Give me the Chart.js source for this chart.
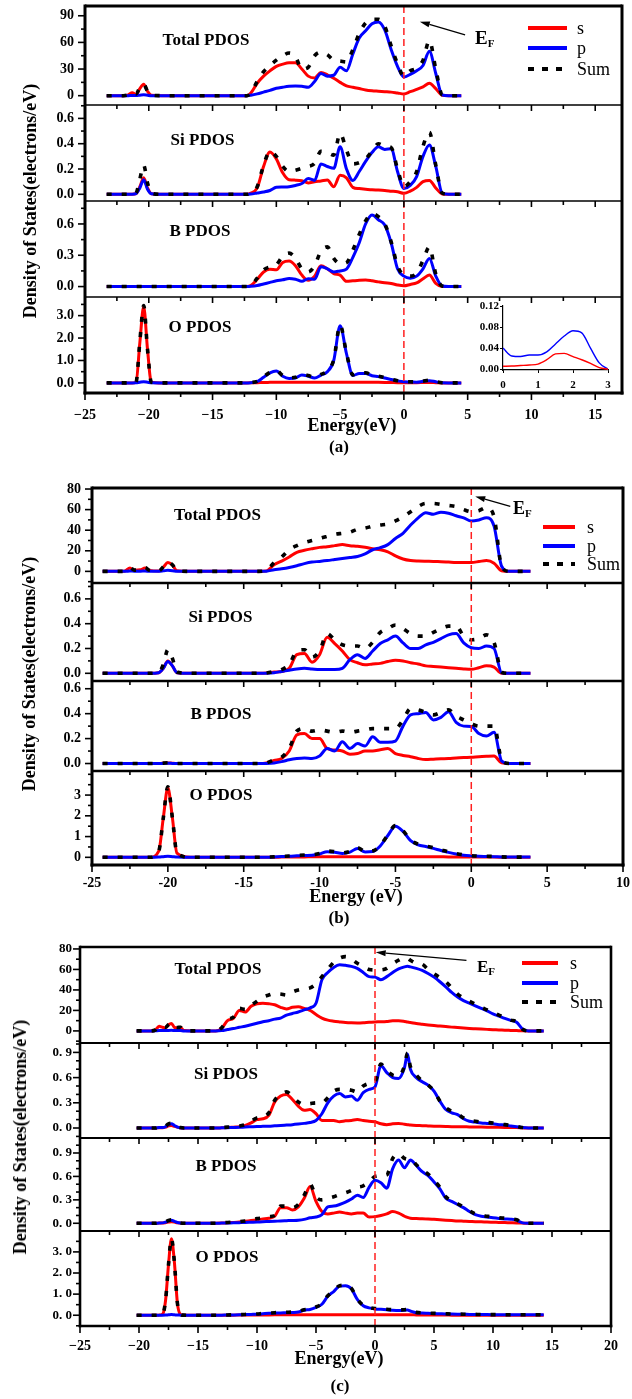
<!DOCTYPE html>
<html>
<head>
<meta charset="utf-8">
<script src="https://cdn.jsdelivr.net/npm/chart.js@4.4.0/dist/chart.umd.min.js"></script>
<style>
html, body { margin: 0; padding: 0; background: #fff; }
#root { position: relative; width: 632px; height: 1399px; overflow: hidden; }
canvas { position: absolute; left: 0; }
.t { position: absolute; font-family: 'Liberation Serif', 'Times New Roman', serif; font-weight: bold;
     line-height: 1; white-space: nowrap; color: #000; transform: translate(-50%, -50%); }
.rot { transform: translate(-50%, -50%) rotate(-90deg); }
.leg { position: absolute; height: 4px; }
.legt { position: absolute; font-family: 'Liberation Serif', 'Times New Roman', serif; font-size: 18px;
        line-height: 1; transform: translateY(-50%); color: #000; }
.ef { position: absolute; font-family: 'Liberation Serif', 'Times New Roman', serif; font-weight: bold; line-height: 1; }
.ef sub { font-size: 11px; vertical-align: -3px; }
</style>
</head>
<body>
<div id="root"></div>
<script>
// ---------- figure (a) ----------
const energyA = [-23.3, -22, -21.6, -21.3, -21, -20.7, -20.4, -20.1, -19.8, -19, -17, -15, -13, -12.3,
  -12, -11.5, -11, -10.5, -10, -9.5, -9, -8.5, -8, -7.5, -7, -6.5, -6, -5.5, -5, -4.5,
  -4, -3.5, -3, -2.5, -2, -1.5, -1, -0.5, 0, 0.5, 1, 1.5, 2, 2.5, 3, 3.5, 4.5];

const aTotalS = [0, 0, 1, 3.4, 1.5, 8, 13, 5, 0.5, 0, 0, 0, 0, 0,
  3, 14, 22, 28, 33, 35.5, 37, 37, 30, 22, 20, 26, 23.5, 19.6, 15, 11,
  9.5, 8, 6.4, 5.5, 5, 4.5, 4, 3, 2, 4.5, 7.2, 10, 14, 8, 0.5, 0, 0];
const aTotalP = [0, 0, 0, 0.3, 0.3, 0.6, 1, 0.5, 0, 0, 0, 0, 0, 0,
  0.5, 2, 4, 6, 8.3, 9.5, 10.5, 11, 10.5, 9.5, 16, 25, 22, 23, 32, 28,
  47, 65, 73, 81, 83, 74, 52, 33, 21, 24, 28, 34, 50, 25, 1, 0, 0];
const aTotalSum = [0, 0, 1, 3.5, 2, 9, 13, 5, 0.5, 0, 0, 0, 0, 0,
  3, 16, 27, 34, 40, 45, 48, 44, 30, 32, 45, 49, 46, 40, 39, 38,
  52, 70, 82, 86, 86, 78, 56, 36, 22, 28, 31, 40, 62, 30, 1, 0, 0];

const aSiS = [0, 0, 0, 0, 0.005, 0.06, 0.13, 0.05, 0.005, 0, 0, 0, 0, 0,
  0.01, 0.05, 0.22, 0.335, 0.28, 0.17, 0.115, 0.112, 0.108, 0.09, 0.1, 0.105, 0.113, 0.06, 0.15, 0.13,
  0.055, 0.045, 0.04, 0.035, 0.033, 0.03, 0.025, 0.02, 0.008, 0.025, 0.055, 0.1, 0.11, 0.05, 0.003, 0, 0];
const aSiP = [0, 0, 0, 0, 0.005, 0.05, 0.115, 0.04, 0.005, 0, 0, 0, 0, 0,
  0.002, 0.01, 0.018, 0.03, 0.055, 0.058, 0.06, 0.07, 0.085, 0.125, 0.11, 0.24, 0.22, 0.205, 0.375, 0.2,
  0.11, 0.18, 0.26, 0.33, 0.375, 0.355, 0.36, 0.18, 0.045, 0.07, 0.14, 0.3, 0.39, 0.22, 0.01, 0, 0];
const aSiSum = [0, 0, 0, 0, 0.01, 0.12, 0.23, 0.09, 0.01, 0, 0, 0, 0, 0,
  0.01, 0.06, 0.23, 0.34, 0.3, 0.22, 0.18, 0.19, 0.205, 0.22, 0.245, 0.34, 0.33, 0.31, 0.48, 0.35,
  0.24, 0.25, 0.28, 0.34, 0.4, 0.38, 0.37, 0.2, 0.06, 0.1, 0.18, 0.38, 0.49, 0.23, 0.01, 0, 0];

const aBS = [0, 0, 0, 0, 0, 0, 0, 0, 0, 0, 0, 0, 0, 0,
  0.01, 0.07, 0.14, 0.167, 0.16, 0.23, 0.245, 0.2, 0.11, 0.06, 0.1, 0.2, 0.17, 0.125, 0.11, 0.05,
  0.055, 0.06, 0.062, 0.055, 0.045, 0.036, 0.03, 0.015, 0.007, 0.02, 0.035, 0.075, 0.11, 0.03, 0, 0, 0];
const aBP = [0, 0, 0, 0, 0, 0, 0, 0, 0, 0, 0, 0, 0, 0,
  0.002, 0.01, 0.025, 0.04, 0.055, 0.065, 0.078, 0.07, 0.05, 0.075, 0.07, 0.19, 0.17, 0.14, 0.15, 0.167,
  0.28, 0.42, 0.6, 0.685, 0.64, 0.59, 0.42, 0.17, 0.1, 0.08, 0.1, 0.17, 0.27, 0.1, 0.005, 0, 0];
const aBSum = [0, 0, 0, 0, 0, 0, 0, 0, 0, 0, 0, 0, 0, 0,
  0.01, 0.08, 0.16, 0.19, 0.21, 0.29, 0.32, 0.27, 0.17, 0.14, 0.2, 0.34, 0.38, 0.27, 0.22, 0.23,
  0.35, 0.5, 0.63, 0.7, 0.67, 0.6, 0.43, 0.2, 0.11, 0.1, 0.13, 0.25, 0.38, 0.12, 0.005, 0, 0];

const aOS = [0, 0, 0, 0, 0.03, 1.8, 3.4, 1.5, 0.03, 0, 0, 0, 0, 0,
  0.005, 0.01, 0.02, 0.025, 0.03, 0.03, 0.03, 0.03, 0.03, 0.03, 0.03, 0.03, 0.03, 0.03, 0.03, 0.03,
  0.03, 0.03, 0.03, 0.03, 0.025, 0.02, 0.015, 0.01, 0.008, 0.01, 0.01, 0.015, 0.02, 0.01, 0, 0, 0];
const aOP = [0, 0, 0, 0, 0.005, 0.03, 0.05, 0.03, 0.005, 0, 0, 0, 0, 0,
  0.01, 0.06, 0.25, 0.45, 0.53, 0.3, 0.2, 0.22, 0.35, 0.3, 0.22, 0.35, 0.5, 1.0, 2.55, 1.3,
  0.33, 0.42, 0.42, 0.32, 0.28, 0.22, 0.15, 0.09, 0.05, 0.04, 0.03, 0.07, 0.1, 0.05, 0.005, 0, 0];
const aOSum = [0, 0, 0, 0, 0.03, 1.85, 3.45, 1.5, 0.03, 0, 0, 0, 0, 0,
  0.015, 0.07, 0.27, 0.47, 0.55, 0.33, 0.23, 0.25, 0.38, 0.33, 0.25, 0.38, 0.53, 1.03, 2.58, 1.33,
  0.36, 0.45, 0.45, 0.35, 0.3, 0.24, 0.17, 0.1, 0.06, 0.05, 0.04, 0.08, 0.12, 0.06, 0.005, 0, 0];

// inset of (a): 0..3 eV, O PDOS
const insetEnergy = [0, 0.25, 0.5, 0.75, 1, 1.25, 1.5, 1.75, 2, 2.25, 2.5, 2.75, 3];
const insetS = [0.0055, 0.006, 0.007, 0.008, 0.0098, 0.018, 0.029, 0.03, 0.024, 0.018, 0.011, 0.003, 0];
const insetP = [0.04, 0.025, 0.024, 0.027, 0.027, 0.033, 0.048, 0.063, 0.073, 0.069, 0.04, 0.012, 0];

// ---------- figure (b) ----------
const energyB = [-24.3, -23, -22.8, -22.5, -22.2, -21.8, -21.5, -21.2, -20.6, -20.3, -20, -19.7, -19.4, -18.5, -17, -15, -14,
  -13.5, -13, -12.5, -12, -11.5, -11, -10.5, -10, -9.5, -9, -8.5, -8, -7.5, -7, -6.5, -6, -5.5,
  -5, -4.5, -4, -3.5, -3, -2.5, -2, -1.5, -1, -0.5, 0, 0.5, 1, 1.5, 2, 2.5, 3, 3.9];

const bTotalS = [0, 0, 0.5, 3.3, 1, 1.5, 3.3, 1, 0.3, 4, 8.5, 6, 0.5, 0, 0, 0, 0,
  0.5, 6.5, 10, 14, 18.5, 20.5, 22, 23.3, 24, 25, 26, 25, 24.5, 23.5, 22, 21, 19,
  15, 12, 10.5, 10, 9.8, 9.7, 9.3, 9, 8.7, 8.7, 8.7, 9.5, 10.5, 8, 0.6, 0, 0, 0];
const bTotalP = [0, 0, 0, 0.3, 0.2, 0.2, 0.3, 0.1, 0.1, 0.5, 1, 0.7, 0.1, 0, 0, 0, 0,
  0.2, 1.5, 2.5, 3.8, 5.5, 7.5, 9, 9.7, 10.5, 11.5, 12.5, 13.5, 14.5, 17, 21, 23, 26,
  32, 37, 45, 52, 57, 55.5, 57.5, 56.5, 54, 52, 49, 50, 52, 44, 5, 0, 0, 0];
const bTotalSum = [0, 0, 0.5, 3.5, 1.2, 1.7, 3.5, 1, 0.5, 4.5, 9, 6.5, 0.5, 0, 0, 0, 0,
  1, 8.5, 14, 21, 25, 28, 30, 32, 34, 36, 37, 38, 41, 42, 44, 45, 46,
  49, 53, 58, 63, 66, 66, 65, 64, 63, 60, 58, 59, 62, 53, 5, 0, 0, 0];

const bSiS = [0, 0, 0, 0, 0, 0, 0, 0, 0.005, 0.04, 0.1, 0.06, 0.005, 0, 0, 0, 0,
  0.002, 0.01, 0.015, 0.04, 0.15, 0.16, 0.09, 0.15, 0.29, 0.24, 0.18, 0.11, 0.085, 0.068, 0.075, 0.08, 0.095,
  0.105, 0.1, 0.085, 0.075, 0.06, 0.055, 0.05, 0.045, 0.04, 0.035, 0.032, 0.045, 0.06, 0.05, 0, 0, 0, 0];
const bSiP = [0, 0, 0, 0, 0, 0, 0, 0, 0.005, 0.04, 0.095, 0.06, 0.005, 0, 0, 0, 0,
  0.001, 0.005, 0.015, 0.025, 0.035, 0.04, 0.035, 0.03, 0.03, 0.03, 0.04, 0.11, 0.15, 0.12, 0.18, 0.24, 0.27,
  0.3, 0.245, 0.2, 0.2, 0.23, 0.25, 0.28, 0.31, 0.32, 0.245, 0.206, 0.2, 0.22, 0.2, 0.005, 0, 0, 0];
const bSiSum = [0, 0, 0, 0, 0, 0, 0, 0, 0.01, 0.07, 0.19, 0.12, 0.01, 0, 0, 0, 0,
  0.003, 0.015, 0.03, 0.07, 0.18, 0.19, 0.13, 0.18, 0.32, 0.27, 0.23, 0.22, 0.22, 0.2, 0.25, 0.33, 0.36,
  0.39, 0.36, 0.32, 0.3, 0.3, 0.33, 0.36, 0.38, 0.38, 0.3, 0.27, 0.28, 0.31, 0.25, 0.01, 0, 0, 0];

const bBS = [0, 0, 0, 0, 0, 0, 0, 0, 0, 0.002, 0.005, 0.002, 0, 0, 0, 0, 0,
  0.005, 0.025, 0.04, 0.1, 0.23, 0.24, 0.2, 0.2, 0.12, 0.108, 0.1, 0.075, 0.08, 0.1, 0.1, 0.11, 0.12,
  0.08, 0.065, 0.055, 0.04, 0.032, 0.035, 0.038, 0.04, 0.045, 0.048, 0.05, 0.055, 0.058, 0.06, 0.005, 0, 0, 0];
const bBP = [0, 0, 0, 0, 0, 0, 0, 0, 0, 0.001, 0.002, 0.001, 0, 0, 0, 0, 0,
  0.001, 0.005, 0.015, 0.03, 0.04, 0.045, 0.04, 0.06, 0.12, 0.1, 0.175, 0.12, 0.16, 0.14, 0.215, 0.17, 0.17,
  0.18, 0.3, 0.39, 0.4, 0.41, 0.35, 0.37, 0.415, 0.33, 0.3, 0.297, 0.24, 0.22, 0.25, 0.02, 0, 0, 0];
const bBSum = [0, 0, 0, 0, 0, 0, 0, 0, 0, 0.003, 0.006, 0.003, 0, 0, 0, 0, 0,
  0.005, 0.03, 0.05, 0.12, 0.26, 0.28, 0.26, 0.27, 0.26, 0.25, 0.26, 0.25, 0.26, 0.27, 0.28, 0.28, 0.28,
  0.28, 0.35, 0.44, 0.43, 0.41, 0.39, 0.41, 0.43, 0.38, 0.35, 0.32, 0.3, 0.3, 0.3, 0.03, 0, 0, 0];

const bOS = [0, 0, 0, 0, 0, 0, 0, 0, 0.3, 1.9, 3.35, 1.9, 0.2, 0, 0, 0, 0,
  0.002, 0.005, 0.01, 0.015, 0.02, 0.02, 0.025, 0.025, 0.03, 0.03, 0.03, 0.03, 0.03, 0.03, 0.03, 0.03, 0.03,
  0.03, 0.03, 0.03, 0.03, 0.03, 0.03, 0.025, 0.02, 0.02, 0.015, 0.01, 0.01, 0.01, 0.01, 0.005, 0, 0, 0];
const bOP = [0, 0, 0, 0, 0, 0, 0, 0, 0.01, 0.03, 0.05, 0.03, 0.01, 0, 0, 0, 0,
  0.005, 0.02, 0.04, 0.05, 0.07, 0.09, 0.1, 0.16, 0.27, 0.24, 0.19, 0.25, 0.43, 0.26, 0.28, 0.55, 1.05,
  1.5, 1.25, 0.8, 0.6, 0.52, 0.43, 0.33, 0.24, 0.16, 0.1, 0.07, 0.05, 0.04, 0.03, 0.015, 0.01, 0.01, 0.01];
const bOSum = [0, 0, 0, 0, 0, 0, 0, 0, 0.3, 1.9, 3.4, 1.9, 0.2, 0, 0, 0, 0,
  0.007, 0.025, 0.05, 0.06, 0.09, 0.11, 0.12, 0.18, 0.3, 0.27, 0.22, 0.28, 0.46, 0.29, 0.31, 0.58, 1.08,
  1.53, 1.28, 0.83, 0.63, 0.55, 0.46, 0.36, 0.26, 0.18, 0.12, 0.08, 0.06, 0.05, 0.04, 0.02, 0.01, 0.01, 0.01];

// ---------- figure (c) ----------
const energyC = [-20.2, -19, -18.6, -18.3, -18, -17.75, -17.5, -17.25, -17, -16.75, -16.5, -16.2, -15.5, -14, -13.5,
  -13, -12.5, -12, -11.5, -11, -10.5, -10, -9.5, -9, -8.5, -8, -7.5, -7, -6.5, -6, -5.5,
  -5, -4.5, -4, -3.5, -3, -2.5, -2, -1.5, -1, -0.5, 0, 0.5, 1, 1.5, 2, 2.5, 2.75,
  3, 3.5, 4, 4.5, 5, 5.5, 6, 6.5, 7, 7.5, 8, 8.5, 9, 9.5, 10, 10.5, 11, 11.5, 12, 12.5, 13, 14.3];

const cTotalS = [0, 0, 1, 4.5, 3.5, 3, 6, 7.3, 3.5, 3, 3.5, 0.5, 0, 0, 0,
  2.5, 10, 12.2, 20, 18.4, 24, 26.5, 27, 26.5, 25.5, 23, 21.5, 23, 23.5, 22, 20,
  16, 12.5, 10.5, 9.5, 8.8, 8.2, 7.9, 7.8, 8, 8.5, 8.8, 9, 9.3, 9.8, 9.8, 9.2, 8.7,
  8.3, 7.2, 6.5, 5.8, 5.2, 4.7, 4.2, 3.7, 3.3, 2.8, 2.4, 2.1, 1.8, 1.5, 1.2, 1.0, 0.7, 0.5, 0.3, 0.1, 0, 0];
const cTotalP = [0, 0, 0.1, 0.3, 0.3, 0.3, 0.5, 0.6, 0.4, 0.3, 0.3, 0, 0, 0, 0,
  0.3, 1.3, 2.3, 3.5, 4.6, 6, 7.5, 9, 10, 11.5, 12.5, 15.4, 17, 18.5, 20.5, 22.5,
  27, 50, 57, 62, 64.6, 64, 63, 61, 57, 53, 52.5, 50, 53, 57, 60.5, 62.5, 63,
  62.5, 61, 59, 56, 52.5, 48, 43, 37.5, 33, 29.5, 27, 24.5, 22, 19.5, 16.7, 14.5, 12.3, 10.3, 8.5, 2, 0, 0];
const cTotalSum = [0, 0, 1, 4.5, 3.8, 3.5, 6, 7.5, 4, 3.3, 3.6, 0.5, 0, 0, 0,
  3, 11, 13.4, 22, 21, 25, 29, 33, 35, 36.5, 36, 35, 38, 40, 41, 42,
  46, 53, 60, 67, 71, 72.5, 70, 66, 63, 60, 59.5, 59.5, 61, 65.5, 69, 71, 71,
  69, 66, 65, 60, 56, 52, 48, 42, 36, 32, 29, 26, 23, 20.5, 18, 15.5, 12.7, 10.5, 8.8, 1.6, 0, 0];

const cSiS = [0, 0, 0, 0.003, 0.003, 0.01, 0.025, 0.03, 0.02, 0.01, 0.003, 0, 0, 0, 0,
  0.002, 0.005, 0.01, 0.015, 0.03, 0.06, 0.1, 0.11, 0.15, 0.31, 0.38, 0.4, 0.34, 0.26, 0.21, 0.22,
  0.17, 0.09, 0.09, 0.09, 0.075, 0.085, 0.09, 0.1, 0.09, 0.08, 0.075, 0.05, 0.04, 0.05, 0.055, 0.045, 0.04,
  0.035, 0.03, 0.028, 0.025, 0.022, 0.02, 0.018, 0.016, 0.015, 0.014, 0.013, 0.012, 0.011, 0.01, 0.009, 0.008, 0.007, 0.006, 0.005, 0.002, 0, 0];
const cSiP = [0, 0, 0, 0.005, 0.005, 0.015, 0.04, 0.05, 0.03, 0.01, 0.003, 0, 0, 0, 0,
  0.002, 0.004, 0.006, 0.008, 0.012, 0.015, 0.018, 0.02, 0.022, 0.026, 0.03, 0.035, 0.04, 0.047, 0.055, 0.065,
  0.09, 0.17, 0.3, 0.38, 0.41, 0.37, 0.38, 0.33, 0.42, 0.46, 0.49, 0.74, 0.66, 0.6, 0.59, 0.72, 0.88,
  0.7, 0.6, 0.55, 0.51, 0.44, 0.32, 0.22, 0.18, 0.16, 0.11, 0.08, 0.07, 0.06, 0.055, 0.05, 0.04, 0.035, 0.025, 0.015, 0.005, 0, 0];
const cSiSum = [0, 0, 0, 0.008, 0.008, 0.02, 0.05, 0.055, 0.04, 0.015, 0.005, 0, 0, 0, 0,
  0.005, 0.01, 0.015, 0.025, 0.04, 0.08, 0.12, 0.13, 0.18, 0.33, 0.4, 0.43, 0.38, 0.31, 0.28, 0.29,
  0.3, 0.3, 0.36, 0.44, 0.46, 0.46, 0.45, 0.43, 0.5, 0.53, 0.55, 0.76, 0.68, 0.63, 0.62, 0.74, 0.89,
  0.73, 0.63, 0.56, 0.51, 0.44, 0.32, 0.24, 0.2, 0.17, 0.12, 0.09, 0.08, 0.07, 0.065, 0.06, 0.05, 0.04, 0.03, 0.02, 0.005, 0, 0];

const cBS = [0, 0, 0, 0.002, 0.003, 0.008, 0.015, 0.02, 0.015, 0.005, 0.002, 0, 0, 0, 0,
  0.003, 0.007, 0.01, 0.015, 0.025, 0.035, 0.045, 0.055, 0.065, 0.09, 0.2, 0.2, 0.17, 0.21, 0.32, 0.47,
  0.28, 0.15, 0.12, 0.13, 0.145, 0.13, 0.12, 0.13, 0.13, 0.08, 0.085, 0.1, 0.12, 0.15, 0.13, 0.09, 0.075,
  0.065, 0.06, 0.058, 0.055, 0.05, 0.045, 0.04, 0.035, 0.03, 0.027, 0.024, 0.02, 0.018, 0.015, 0.013, 0.011, 0.009, 0.007, 0.005, 0.002, 0, 0];
const cBP = [0, 0, 0, 0.003, 0.005, 0.015, 0.03, 0.04, 0.025, 0.01, 0.003, 0, 0, 0, 0,
  0.002, 0.004, 0.006, 0.008, 0.01, 0.013, 0.016, 0.02, 0.022, 0.025, 0.03, 0.033, 0.036, 0.04, 0.05, 0.07,
  0.08, 0.11, 0.21, 0.22, 0.24, 0.27, 0.31, 0.36, 0.33, 0.46, 0.55, 0.52, 0.45, 0.7, 0.81, 0.71, 0.76,
  0.81, 0.74, 0.66, 0.61, 0.53, 0.44, 0.32, 0.28, 0.24, 0.2, 0.15, 0.11, 0.09, 0.08, 0.07, 0.062, 0.056, 0.052, 0.04, 0.005, 0, 0];
const cBSum = [0, 0, 0, 0.005, 0.008, 0.02, 0.035, 0.045, 0.03, 0.01, 0.004, 0, 0, 0, 0,
  0.005, 0.01, 0.015, 0.02, 0.03, 0.045, 0.06, 0.07, 0.085, 0.1, 0.22, 0.22, 0.2, 0.24, 0.36, 0.5,
  0.34, 0.3, 0.32, 0.34, 0.37, 0.39, 0.42, 0.46, 0.48, 0.53, 0.6, 0.61, 0.62, 0.83, 0.89, 0.83, 0.82,
  0.82, 0.75, 0.68, 0.63, 0.55, 0.46, 0.34, 0.29, 0.25, 0.21, 0.16, 0.12, 0.1, 0.09, 0.08, 0.07, 0.065, 0.058, 0.045, 0.006, 0, 0];

const cOS = [0, 0, 0, 0.005, 0.05, 0.7, 2.4, 3.62, 2.5, 0.6, 0.05, 0.003, 0, 0, 0,
  0.002, 0.003, 0.005, 0.006, 0.008, 0.01, 0.012, 0.014, 0.016, 0.018, 0.02, 0.02, 0.02, 0.02, 0.02, 0.02,
  0.02, 0.02, 0.02, 0.02, 0.02, 0.02, 0.02, 0.02, 0.02, 0.02, 0.02, 0.02, 0.02, 0.02, 0.02, 0.02, 0.02,
  0.02, 0.015, 0.012, 0.01, 0.008, 0.007, 0.006, 0.005, 0.004, 0.003, 0.003, 0.002, 0.002, 0.002, 0.002, 0.002, 0.002, 0.002, 0.002, 0.001, 0.001, 0];
const cOP = [0, 0, 0, 0.002, 0.005, 0.01, 0.02, 0.03, 0.02, 0.01, 0.005, 0, 0, 0, 0,
  0.005, 0.01, 0.015, 0.02, 0.03, 0.04, 0.05, 0.07, 0.09, 0.1, 0.11, 0.12, 0.13, 0.15, 0.24, 0.27,
  0.37, 0.52, 0.9, 1.12, 1.38, 1.4, 1.25, 0.75, 0.45, 0.35, 0.3, 0.28, 0.26, 0.24, 0.23, 0.24, 0.25,
  0.2, 0.12, 0.1, 0.09, 0.08, 0.07, 0.06, 0.055, 0.05, 0.045, 0.04, 0.035, 0.033, 0.03, 0.028, 0.026, 0.024, 0.022, 0.02, 0.02, 0.02, 0.02];
const cOSum = [0, 0, 0, 0.005, 0.05, 0.7, 2.4, 3.63, 2.5, 0.6, 0.05, 0.003, 0, 0, 0,
  0.007, 0.013, 0.02, 0.026, 0.038, 0.05, 0.06, 0.085, 0.1, 0.12, 0.13, 0.14, 0.15, 0.17, 0.26, 0.29,
  0.39, 0.54, 0.92, 1.14, 1.4, 1.42, 1.27, 0.77, 0.47, 0.37, 0.32, 0.3, 0.28, 0.26, 0.25, 0.26, 0.27,
  0.22, 0.135, 0.11, 0.1, 0.09, 0.08, 0.07, 0.06, 0.055, 0.05, 0.045, 0.04, 0.035, 0.032, 0.03, 0.028, 0.026, 0.024, 0.022, 0.021, 0.021, 0.02];

// ---------- tick labels ----------
const xTicksA = [-25, -20, -15, -10, -5, 0, 5, 10, 15];
const xTicksB = [-25, -20, -15, -10, -5, 0, 5, 10];
const xTicksC = [-25, -20, -15, -10, -5, 0, 5, 10, 15, 20];
const yTicksATotal = [0, 30, 60, 90], yTicksASi = [0, 0.2, 0.4, 0.6], yTicksAB = [0, 0.3, 0.6], yTicksAO = [0, 1, 2, 3];
const yTicksBTotal = [0, 20, 40, 60, 80], yTicksBSi = [0, 0.2, 0.4, 0.6], yTicksBB = [0, 0.2, 0.4, 0.6], yTicksBO = [0, 1, 2, 3];
const yTicksCTotal = [0, 20, 40, 60, 80], yTicksCSi = [0, 0.3, 0.6, 0.9], yTicksCB = [0, 0.3, 0.6, 0.9], yTicksCO = [0, 1, 2, 3];
const insetXTicks = [0, 1, 2, 3], insetYTicks = [0, 0.04, 0.08, 0.12];

// ---------- layout ----------
const W = 632;
const FONT = "'Liberation Serif', 'Times New Roman', serif";
Chart.defaults.font.family = FONT;
Chart.defaults.font.weight = 'bold';
Chart.defaults.color = '#000';

const figures = [
  {
    energy: energyA, xMin: -25, xMax: 17.1, left: 85, right: 622, edges: [6, 105, 201, 297, 393],
    xTicks: xTicksA, minus: '\u2212', xPad: 13.5, yPad: 11, yFont: 14, outer: 3, inner: 1.5,
    arrow: { from: [4.8, 68.4], to: [1.25, 83.4] },
    panels: [
      { s: aTotalS, p: aTotalP, sum: aTotalSum, yMin: -10.5, yMax: 101, ticks: yTicksATotal, minor: 15, dec: 0 },
      { s: aSiS, p: aSiP, sum: aSiSum, yMin: -0.053, yMax: 0.706, ticks: yTicksASi, minor: 0.1, dec: 1 },
      { s: aBS, p: aBP, sum: aBSum, yMin: -0.1, yMax: 0.82, ticks: yTicksAB, minor: 0.15, dec: 1 },
      { s: aOS, p: aOP, sum: aOSum, yMin: -0.45, yMax: 3.83, ticks: yTicksAO, minor: 0.5, dec: 1 }
    ]
  },
  {
    energy: energyB, xMin: -25, xMax: 10, left: 92, right: 623, edges: [488, 583, 681, 771, 865],
    xTicks: xTicksB, minus: '-', xPad: 9.6, yPad: 11, yFont: 14, outer: 3, inner: 2.5,
    arrow: { from: [2.57, 63.1], to: [0.26, 72.8] },
    panels: [
      { s: bTotalS, p: bTotalP, sum: bTotalSum, yMin: -11.3, yMax: 81, ticks: yTicksBTotal, minor: 10, dec: 0 },
      { s: bSiS, p: bSiP, sum: bSiSum, yMin: -0.062, yMax: 0.728, ticks: yTicksBSi, minor: 0.1, dec: 1 },
      { s: bBS, p: bBP, sum: bBSum, yMin: -0.06, yMax: 0.662, ticks: yTicksBB, minor: 0.1, dec: 1 },
      { s: bOS, p: bOP, sum: bOSum, yMin: -0.37, yMax: 4.16, ticks: yTicksBO, minor: 0.5, dec: 0 }
    ]
  },
  {
    energy: energyC, xMin: -25, xMax: 20, left: 80, right: 611, edges: [947, 1043, 1138, 1231, 1326],
    xTicks: xTicksC, minus: '\u2212', xPad: 11.6, yPad: 8, yFont: 13, outer: 2.6, inner: 1.8, spaced: true,
    arrow: { from: [7.75, 68.8], to: [0.06, 76.7] },
    panels: [
      { s: cTotalS, p: cTotalP, sum: cTotalSum, yMin: -11.8, yMax: 81.9, ticks: yTicksCTotal, minor: 10, dec: 0 },
      { s: cSiS, p: cSiP, sum: cSiSum, yMin: -0.119, yMax: 1.012, ticks: yTicksCSi, minor: 0.1, dec: 1 },
      { s: cBS, p: cBP, sum: cBSum, yMin: -0.099, yMax: 1.092, ticks: yTicksCB, minor: 0.1, dec: 1 },
      { s: cOS, p: cOP, sum: cOSum, yMin: -0.51, yMax: 3.99, ticks: yTicksCO, minor: 0.5, dec: 1 }
    ]
  }
];

const root = document.getElementById('root');

function pts(xs, ys) {
  return xs.map((x, i) => ({ x: x, y: ys[i] }));
}

function minorValues(min, max, step, majors) {
  const out = [];
  for (let k = Math.ceil(min / step - 1e-9); k * step <= max + 1e-9; k++) {
    const v = Math.round(k * step * 1e6) / 1e6;
    if (!majors.some(m => Math.abs(m - v) < 1e-6)) out.push(v);
  }
  return out;
}

// scale boxes get a fixed size and no label overflow padding
function fixBox(s, w, h) {
  if (w !== null) s.width = w;
  if (h !== null) s.height = h;
  s.paddingTop = 0; s.paddingBottom = 0; s.paddingLeft = 0; s.paddingRight = 0;
}

function hLine(ctx, x1, x2, y) { ctx.beginPath(); ctx.moveTo(x1, y); ctx.lineTo(x2, y); ctx.stroke(); }
function vLine(ctx, x, y1, y2) { ctx.beginPath(); ctx.moveTo(x, y1); ctx.lineTo(x, y2); ctx.stroke(); }

function panelDeco(f, i) {
  const p = f.panels[i];
  const last = i === f.panels.length - 1;
  return {
    id: 'panelDeco',
    afterDatasetsDraw(chart) {
      const { ctx, chartArea: a, scales: { x, y } } = chart;
      const x0 = x.getPixelForValue(0);
      ctx.save();
      ctx.strokeStyle = '#ff2020';
      ctx.lineWidth = 1.5;
      ctx.setLineDash([7, 4]);
      vLine(ctx, x0, a.top, a.bottom);
      ctx.setLineDash([]);
      if (i === 0) {
        // E_F arrow
        const tx = x.getPixelForValue(f.arrow.from[0]), ty = y.getPixelForValue(f.arrow.from[1]);
        const hx = x.getPixelForValue(f.arrow.to[0]), hy = y.getPixelForValue(f.arrow.to[1]);
        const ang = Math.atan2(hy - ty, hx - tx);
        const L = 10, hw = 3;
        const bx = hx - L * Math.cos(ang), by = hy - L * Math.sin(ang);
        ctx.strokeStyle = '#000';
        ctx.lineWidth = 1.2;
        ctx.beginPath(); ctx.moveTo(tx, ty); ctx.lineTo(bx, by); ctx.stroke();
        ctx.fillStyle = '#000';
        ctx.beginPath();
        ctx.moveTo(hx, hy);
        ctx.lineTo(bx + hw * Math.sin(ang), by - hw * Math.cos(ang));
        ctx.lineTo(bx - hw * Math.sin(ang), by + hw * Math.cos(ang));
        ctx.closePath();
        ctx.fill();
      }
      ctx.restore();
    },
    afterDraw(chart) {
      const { ctx, chartArea: a, scales: { x, y } } = chart;
      ctx.save();
      ctx.strokeStyle = '#000';
      ctx.lineWidth = 1.6;
      // y ticks, outside
      p.ticks.forEach(v => hLine(ctx, a.left - 7, a.left, y.getPixelForValue(v)));
      minorValues(p.yMin, p.yMax, p.minor, p.ticks).forEach(v => hLine(ctx, a.left - 4, a.left, y.getPixelForValue(v)));
      // x ticks
      const xMinor = minorValues(f.xMin, f.xMax, 2.5, f.xTicks);
      if (i > 0) {
        f.xTicks.forEach(v => vLine(ctx, x.getPixelForValue(v), a.top, a.top + 6));
        xMinor.forEach(v => vLine(ctx, x.getPixelForValue(v), a.top, a.top + 4));
      }
      if (last) {
        f.xTicks.forEach(v => vLine(ctx, x.getPixelForValue(v), a.bottom, a.bottom + 7));
        xMinor.forEach(v => vLine(ctx, x.getPixelForValue(v), a.bottom, a.bottom + 4));
      }
      // frame
      const tw = i === 0 ? f.outer : f.inner;
      ctx.lineWidth = tw;
      hLine(ctx, a.left, a.right, a.top);
      if (last) {
        ctx.lineWidth = f.outer;
        hLine(ctx, a.left - f.outer / 2, a.right + f.outer / 2, a.bottom);
      }
      ctx.lineWidth = f.outer;
      const y1 = a.top - (i === 0 ? tw / 2 : 0), y2 = a.bottom + (last ? f.outer / 2 : 0);
      vLine(ctx, a.left, y1, y2);
      vLine(ctx, a.right, y1, y2);
      ctx.restore();
    }
  };
}

function yLabel(f, p, v) {
  let s = p.dec ? v.toFixed(p.dec) : String(Math.round(v));
  if (f.spaced && p.dec) s = s.replace('.', '. ');
  return s;
}

figures.forEach(f => {
  f.panels.forEach((p, i) => {
    const last = i === f.panels.length - 1;
    const top = f.edges[i], bottom = f.edges[i + 1];
    const padT = 8, padB = last ? 0 : 8;
    const axisH = last ? 40 : 0;
    const h = bottom - top + padT + padB + axisH;
    const cv = document.createElement('canvas');
    cv.width = W; cv.height = h;
    cv.style.top = (top - padT) + 'px';
    cv.style.width = W + 'px'; cv.style.height = h + 'px';
    root.appendChild(cv);
    new Chart(cv, {
      type: 'line',
      data: {
        datasets: [
          { data: pts(f.energy, p.s), borderColor: '#ff0000', borderWidth: 3, order: 2 },
          { data: pts(f.energy, p.p), borderColor: '#0000ff', borderWidth: 3, order: 1 },
          { data: pts(f.energy, p.sum), borderColor: '#000000', borderWidth: 3.6, borderDash: [5, 10], order: 0 }
        ]
      },
      options: {
        responsive: false, animation: false, events: [], devicePixelRatio: 1,
        layout: { autoPadding: false, padding: { left: 0, right: W - f.right, top: padT, bottom: padB } },
        elements: { point: { radius: 0 }, line: { cubicInterpolationMode: 'monotone', borderCapStyle: 'butt' } },
        plugins: { legend: { display: false }, tooltip: { enabled: false } },
        scales: {
          x: {
            type: 'linear', min: f.xMin, max: f.xMax, display: last,
            grid: { display: false, drawTicks: false }, border: { display: false },
            afterFit: s => fixBox(s, null, axisH),
            afterBuildTicks: s => { s.ticks = f.xTicks.map(v => ({ value: v })); },
            ticks: {
              padding: f.xPad, maxRotation: 0, autoSkip: false, font: { size: 14, weight: 'bold' },
              callback: v => (v < 0 ? f.minus + Math.abs(v) : String(v))
            }
          },
          y: {
            type: 'linear', min: p.yMin, max: p.yMax,
            grid: { display: false, drawTicks: false }, border: { display: false },
            afterFit: s => fixBox(s, f.left, null),
            afterBuildTicks: s => { s.ticks = p.ticks.map(v => ({ value: v })); },
            ticks: { padding: f.yPad, autoSkip: false, font: { size: f.yFont, weight: 'bold' }, callback: v => yLabel(f, p, v) }
          }
        }
      },
      plugins: [panelDeco(f, i)]
    });
  });
});

// inset in (a) O PDOS
(function () {
  const cv = document.createElement('canvas');
  cv.width = 150; cv.height = 98;
  cv.style.left = '465px'; cv.style.top = '298px';
  root.appendChild(cv);
  new Chart(cv, {
    type: 'line',
    data: {
      datasets: [
        { data: pts(insetEnergy, insetS), borderColor: '#ff0000', borderWidth: 1.4 },
        { data: pts(insetEnergy, insetP), borderColor: '#0000ff', borderWidth: 1.4 }
      ]
    },
    options: {
      responsive: false, animation: false, events: [], devicePixelRatio: 1,
      layout: { autoPadding: false, padding: { left: 0, right: 7, top: 8, bottom: 0 } },
      elements: { point: { radius: 0 }, line: { cubicInterpolationMode: 'monotone' } },
      plugins: { legend: { display: false }, tooltip: { enabled: false } },
      scales: {
        x: {
          type: 'linear', min: 0, max: 3,
          afterFit: s => fixBox(s, null, 26),
          afterBuildTicks: s => { s.ticks = insetXTicks.map(v => ({ value: v })); },
          grid: { display: true, drawOnChartArea: false, drawTicks: true, tickLength: 3, color: '#000', lineWidth: 1 },
          border: { display: true, color: '#000', width: 1.2 },
          ticks: { padding: 6, maxRotation: 0, autoSkip: false, font: { size: 11, weight: 'bold' } }
        },
        y: {
          type: 'linear', min: -0.0015, max: 0.12,
          afterFit: s => fixBox(s, 38, null),
          afterBuildTicks: s => { s.ticks = insetYTicks.map(v => ({ value: v })); },
          grid: { display: true, drawOnChartArea: false, drawTicks: true, tickLength: 3, color: '#000', lineWidth: 1 },
          border: { display: true, color: '#000', width: 1.2 },
          ticks: { padding: 1, autoSkip: false, font: { size: 11, weight: 'bold' }, callback: v => v.toFixed(2) }
        }
      }
    }
  });
})();

// ---------- text overlays ----------
function addText(text, x, y, size, cls) {
  const d = document.createElement('div');
  d.className = 't' + (cls ? ' ' + cls : '');
  d.textContent = text;
  d.style.left = x + 'px'; d.style.top = y + 'px'; d.style.fontSize = size + 'px';
  root.appendChild(d);
}

const panelTitles = [
  ['Total PDOS', 206, 38.5], ['Si PDOS', 202.5, 139], ['B PDOS', 200, 230], ['O PDOS', 200, 326],
  ['Total PDOS', 217.5, 514], ['Si PDOS', 220.5, 616], ['B PDOS', 221, 712.5], ['O PDOS', 221, 794],
  ['Total PDOS', 218, 967.5], ['Si PDOS', 226, 1073], ['B PDOS', 226, 1165], ['O PDOS', 227, 1256]
];
panelTitles.forEach(t => addText(t[0], t[1], t[2], 17));

const yTitle = 'Density of States(electrons/eV)';
addText(yTitle, 30, 201, 18, 'rot');
addText(yTitle, 28.5, 674, 18, 'rot');
addText(yTitle, 19.5, 1137, 18, 'rot');

addText('Energy(eV)', 352, 425, 18);
addText('Energy (eV)', 356, 896, 18);
addText('Energy(eV)', 339, 1358, 18);

addText('(a)', 339, 446, 17);
addText('(b)', 339, 917, 17);
addText('(c)', 340, 1385, 17);

// legends
const legends = [
  { x1: 528, x2: 567, ys: [28, 48, 69], tx: 577 },
  { x1: 543, x2: 575, ys: [527, 546, 564], tx: 587 },
  { x1: 522, x2: 558, ys: [963, 983, 1002], tx: 570 }
];
const legendItems = [
  { label: 's', bg: '#ff0000' },
  { label: 'p', bg: '#0000ff' },
  { label: 'Sum', bg: 'repeating-linear-gradient(to right, #000 0 6px, transparent 6px 14px)' }
];
legends.forEach(L => {
  legendItems.forEach((it, k) => {
    const ln = document.createElement('div');
    ln.className = 'leg';
    ln.style.left = L.x1 + 'px'; ln.style.width = (L.x2 - L.x1) + 'px';
    ln.style.top = (L.ys[k] - 2) + 'px';
    ln.style.background = it.bg;
    root.appendChild(ln);
    const tx = document.createElement('div');
    tx.className = 'legt';
    tx.textContent = it.label;
    tx.style.left = L.tx + 'px'; tx.style.top = L.ys[k] + 'px';
    root.appendChild(tx);
  });
});

// E_F labels
[[475, 28, 19], [513, 499, 18], [477, 958, 17]].forEach(e => {
  const d = document.createElement('div');
  d.className = 'ef';
  d.innerHTML = 'E<sub>F</sub>';
  d.style.left = e[0] + 'px'; d.style.top = e[1] + 'px'; d.style.fontSize = e[2] + 'px';
  root.appendChild(d);
});
</script>
</body>
</html>
